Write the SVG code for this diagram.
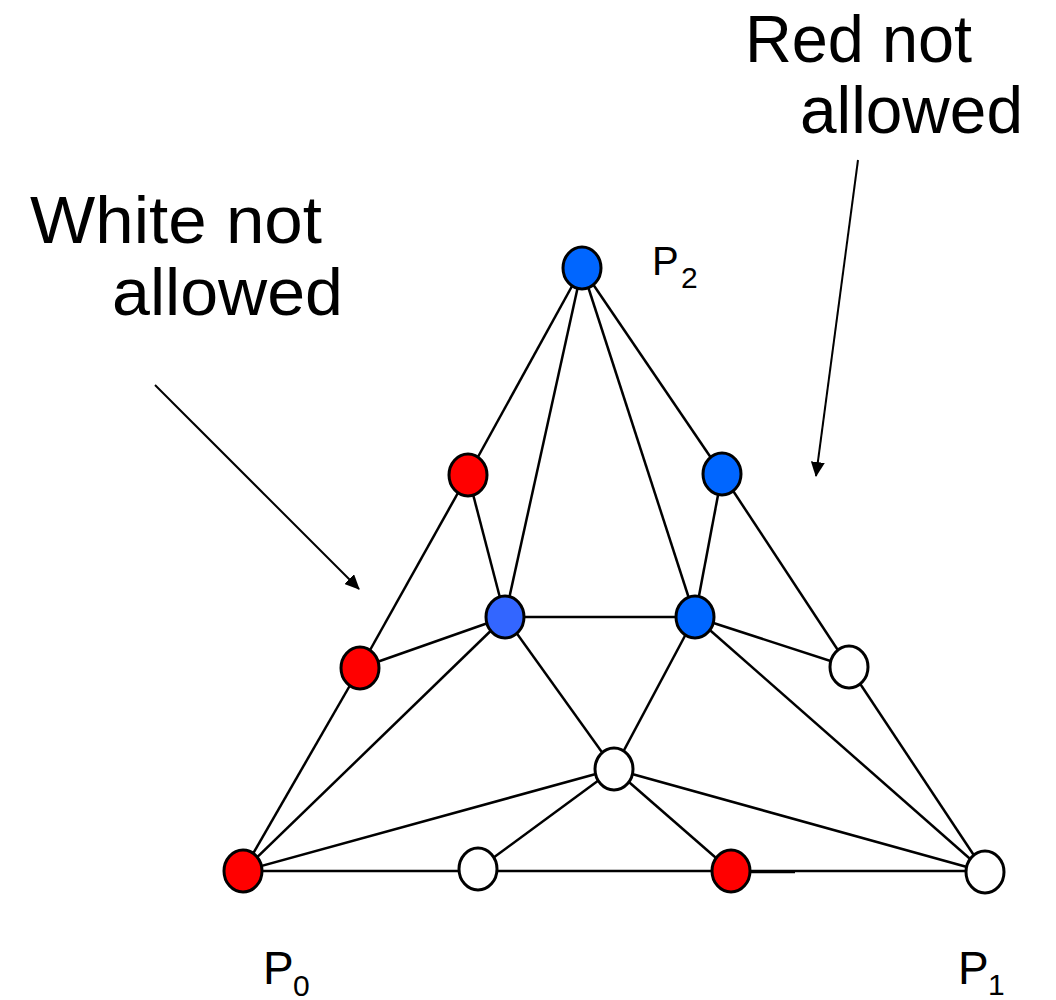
<svg xmlns="http://www.w3.org/2000/svg" width="1056" height="1000" viewBox="0 0 1056 1000">
<style>
.lbl{font-family:"Liberation Sans",Arial,sans-serif;fill:#000}
.big{font-size:67px}
.edge{stroke:#000;stroke-width:2.5;fill:none}
.arr{stroke:#000;stroke-width:2;fill:none}
.node{stroke:#000;stroke-width:3}
.r{fill:#FF0000}
.b{fill:#0066FF}
.w{fill:#FFFFFF}
</style>
<defs>
<marker id="ah" markerWidth="15" markerHeight="14" refX="14" refY="7" orient="auto" markerUnits="userSpaceOnUse" viewBox="0 0 15 14">
<path d="M0,0 L15,7 L0,14 z" fill="#000"/>
</marker>
</defs>
<rect width="1056" height="1000" fill="#fff"/>
<g id="connectors">
<line class="edge" x1="582" y1="268" x2="468" y2="475"/>
<line class="edge" x1="582" y1="268" x2="722" y2="474"/>
<line class="edge" x1="582" y1="268" x2="505" y2="617"/>
<line class="edge" x1="582" y1="268" x2="695" y2="617"/>
<line class="edge" x1="468" y1="475" x2="360" y2="668"/>
<line class="edge" x1="468" y1="475" x2="505" y2="617"/>
<line class="edge" x1="722" y1="474" x2="695" y2="617"/>
<line class="edge" x1="722" y1="474" x2="849" y2="667"/>
<line class="edge" x1="360" y1="668" x2="243" y2="871"/>
<line class="edge" x1="360" y1="668" x2="505" y2="617"/>
<line class="edge" x1="505" y1="617" x2="695" y2="617"/>
<line class="edge" x1="505" y1="617" x2="243" y2="871"/>
<line class="edge" x1="505" y1="617" x2="614" y2="769"/>
<line class="edge" x1="695" y1="617" x2="614" y2="769"/>
<line class="edge" x1="695" y1="617" x2="849" y2="667"/>
<line class="edge" x1="695" y1="617" x2="985" y2="872"/>
<line class="edge" x1="849" y1="667" x2="985" y2="872"/>
<line class="edge" x1="614" y1="769" x2="243" y2="871"/>
<line class="edge" x1="614" y1="769" x2="478" y2="869"/>
<line class="edge" x1="614" y1="769" x2="731" y2="871"/>
<line class="edge" x1="614" y1="769" x2="985" y2="872"/>
<line class="edge" x1="243" y1="871" x2="985" y2="871"/>
<line class="edge" x1="740" y1="872" x2="795" y2="872" stroke-width="3"/>
<line class="arr" x1="155" y1="385" x2="359" y2="589" marker-end="url(#ah)"/>
<line class="arr" x1="858" y1="160" x2="816" y2="476" marker-end="url(#ah)"/>
</g>
<g id="n_p2"><ellipse class="node b" cx="582" cy="268" rx="19" ry="21"/></g>
<g id="n_r1"><ellipse class="node r" cx="468" cy="475" rx="19" ry="21"/></g>
<g id="n_b1"><ellipse class="node b" cx="722" cy="474" rx="19" ry="21"/></g>
<g id="n_b2"><ellipse class="node b" cx="505" cy="617" rx="19" ry="21" style="fill:#3366FF"/></g>
<g id="n_b3"><ellipse class="node b" cx="695" cy="617" rx="19" ry="21"/></g>
<g id="n_r2"><ellipse class="node r" cx="360" cy="668" rx="19" ry="21"/></g>
<g id="n_w1"><ellipse class="node w" cx="849" cy="667" rx="19" ry="21"/></g>
<g id="n_w2"><ellipse class="node w" cx="614" cy="769" rx="19" ry="21"/></g>
<g id="n_p0"><ellipse class="node r" cx="243" cy="871" rx="19" ry="21"/></g>
<g id="n_w3"><ellipse class="node w" cx="478" cy="869" rx="19" ry="21"/></g>
<g id="n_r3"><ellipse class="node r" cx="731" cy="871" rx="19" ry="21"/></g>
<g id="n_p1"><ellipse class="node w" cx="985" cy="872" rx="19" ry="21"/></g>
<g id="labels">
<text class="lbl big" x="30" y="243" textLength="292" lengthAdjust="spacingAndGlyphs">White not</text>
<text class="lbl big" x="112" y="315" textLength="231" lengthAdjust="spacingAndGlyphs">allowed</text>
<text class="lbl big" x="745" y="62" textLength="227" lengthAdjust="spacingAndGlyphs">Red not</text>
<text class="lbl big" x="800" y="133" textLength="223" lengthAdjust="spacingAndGlyphs">allowed</text>
<text class="lbl" x="652" y="275" font-size="40">P</text>
<text class="lbl" x="681" y="288" font-size="30">2</text>
<text class="lbl" x="263" y="984" font-size="46">P</text>
<text class="lbl" x="293" y="996" font-size="30">0</text>
<text class="lbl" x="958" y="984" font-size="46">P</text>
<text class="lbl" x="988" y="995" font-size="30">1</text>
</g>
</svg>
